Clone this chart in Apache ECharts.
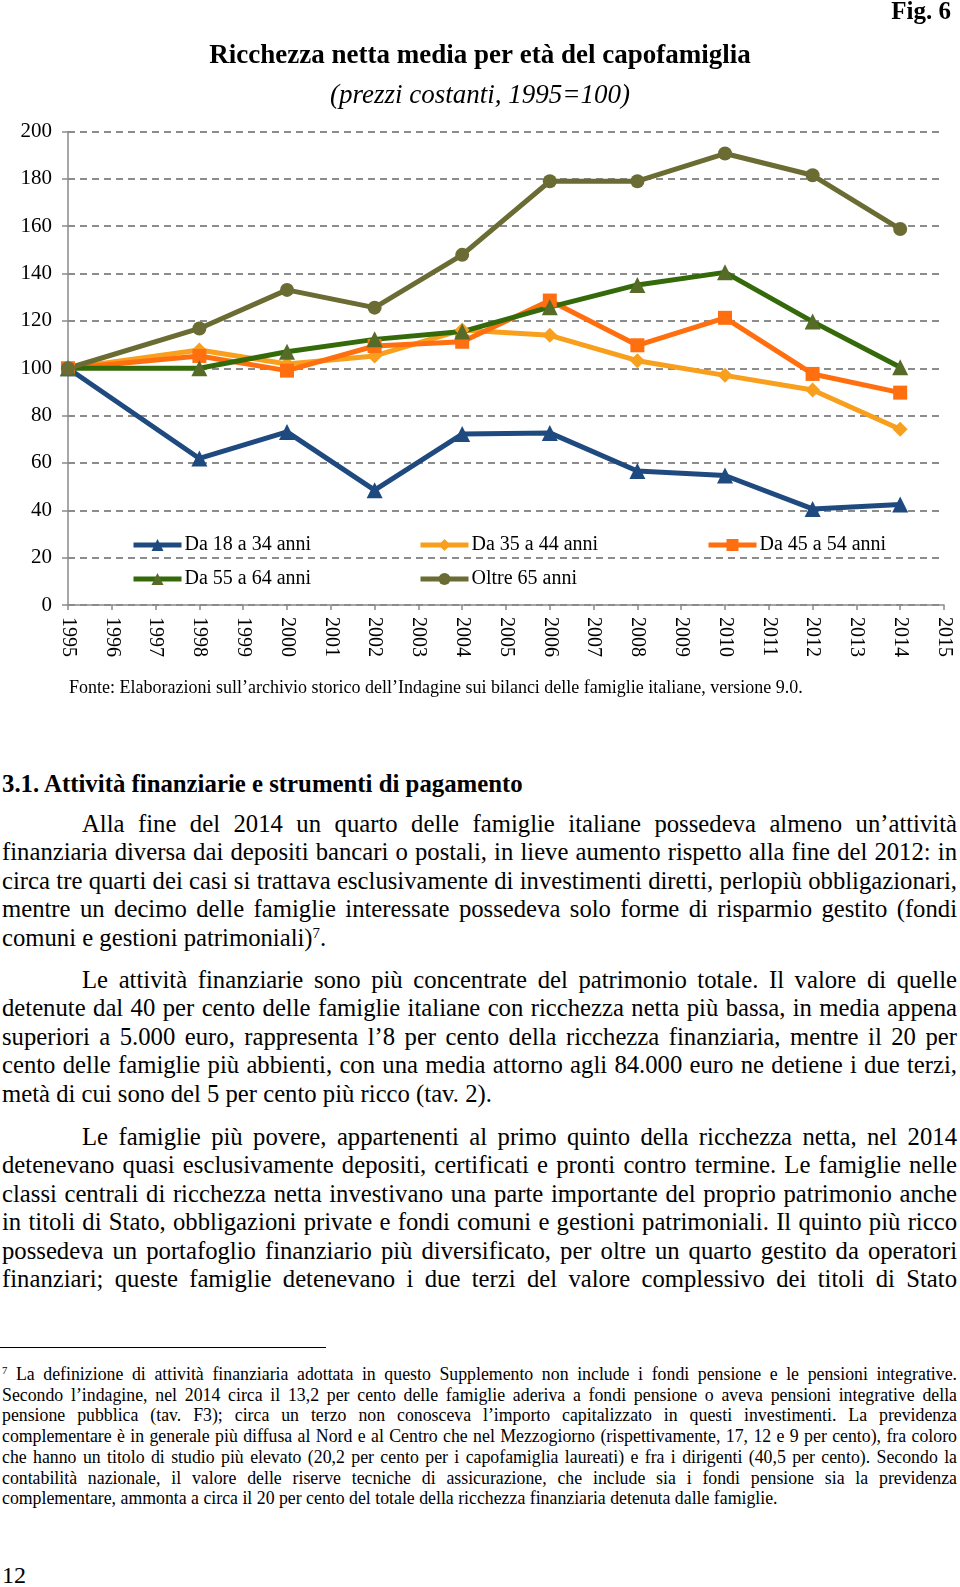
<!DOCTYPE html>
<html>
<head>
<meta charset="utf-8">
<script src="https://cdn.jsdelivr.net/npm/echarts@6/dist/echarts.min.js"></script>
<style>
  html, body { margin: 0; padding: 0; background: #fff; width: 960px; height: 1587px; overflow: hidden; }
  body { font-family: 'Liberation Serif', 'Times New Roman', serif; color: #000; position: relative; }
  #chart { position: absolute; left: 0; top: 0; width: 960px; height: 700px; }
  .abs { position: absolute; }
  .ln { width: 955px; text-align: justify; text-align-last: justify; white-space: normal; }
  .ln.last { text-align-last: left; }
  .ind { text-indent: 80px; }
  .body { font-size: 24.7px; line-height: 28.4px; }
  .fn { font-size: 17.8px; line-height: 20.7px; }
  sup { font-size: 60%; line-height: 0; vertical-align: 0.55em; }
</style>
</head>
<body>
<div id="chart"></div>

<div class="abs" id="fonte" style="left:69px; top:676px; font-size:18px; line-height:22px;">Fonte: Elaborazioni sull’archivio storico dell’Indagine sui bilanci delle famiglie italiane, versione 9.0.</div>

<div class="abs" style="left:2px; top:769px; font-size:24.8px; font-weight:bold; line-height:30px;">3.1. Attività finanziarie e strumenti di pagamento</div>

<div class="abs body" style="left:2px; top:810px;">
  <div class="ln ind">Alla fine del 2014 un quarto delle famiglie italiane possedeva almeno un’attività</div>
  <div class="ln">finanziaria diversa dai depositi bancari o postali, in lieve aumento rispetto alla fine del 2012: in</div>
  <div class="ln">circa tre quarti dei casi si trattava esclusivamente di investimenti diretti, perlopiù obbligazionari,</div>
  <div class="ln">mentre un decimo delle famiglie interessate possedeva solo forme di risparmio gestito (fondi</div>
  <div class="ln last">comuni e gestioni patrimoniali)<sup>7</sup>.</div>
</div>

<div class="abs body" style="left:2px; top:966px;">
  <div class="ln ind">Le attività finanziarie sono più concentrate del patrimonio totale. Il valore di quelle</div>
  <div class="ln">detenute dal 40 per cento delle famiglie italiane con ricchezza netta più bassa, in media appena</div>
  <div class="ln">superiori a 5.000 euro, rappresenta l’8 per cento della ricchezza finanziaria, mentre il 20 per</div>
  <div class="ln">cento delle famiglie più abbienti, con una media attorno agli 84.000 euro ne detiene i due terzi,</div>
  <div class="ln last">metà di cui sono del 5 per cento più ricco (tav. 2).</div>
</div>

<div class="abs body" style="left:2px; top:1123px;">
  <div class="ln ind">Le famiglie più povere, appartenenti al primo quinto della ricchezza netta, nel 2014</div>
  <div class="ln">detenevano quasi esclusivamente depositi, certificati e pronti contro termine. Le famiglie nelle</div>
  <div class="ln">classi centrali di ricchezza netta investivano una parte importante del proprio patrimonio anche</div>
  <div class="ln">in titoli di Stato, obbligazioni private e fondi comuni e gestioni patrimoniali. Il quinto più ricco</div>
  <div class="ln">possedeva un portafoglio finanziario più diversificato, per oltre un quarto gestito da operatori</div>
  <div class="ln">finanziari; queste famiglie detenevano i due terzi del valore complessivo dei titoli di Stato</div>
</div>

<div class="abs" style="left:0px; top:1347px; width:326px; height:0; border-top:1.5px solid #000;"></div>

<div class="abs fn" style="left:2px; top:1364px;">
  <div class="ln"><sup>7</sup> La definizione di attività finanziaria adottata in questo Supplemento non include i fondi pensione e le pensioni integrative.</div>
  <div class="ln">Secondo l’indagine, nel 2014 circa il 13,2 per cento delle famiglie aderiva a fondi pensione o aveva pensioni integrative della</div>
  <div class="ln">pensione pubblica (tav. F3); circa un terzo non conosceva l’importo capitalizzato in questi investimenti. La previdenza</div>
  <div class="ln">complementare è in generale più diffusa al Nord e al Centro che nel Mezzogiorno (rispettivamente, 17, 12 e 9 per cento), fra coloro</div>
  <div class="ln">che hanno un titolo di studio più elevato (20,2 per cento per i capofamiglia laureati) e fra i dirigenti (40,5 per cento). Secondo la</div>
  <div class="ln">contabilità nazionale, il valore delle riserve tecniche di assicurazione, che include sia i fondi pensione sia la previdenza</div>
  <div class="ln last">complementare, ammonta a circa il 20 per cento del totale della ricchezza finanziaria detenuta dalle famiglie.</div>
</div>

<div class="abs" style="left:2px; top:1560px; font-size:24px; line-height:30px;">12</div>

<script>
// ---- Data ----
var xLabels = ['1995','1996','1997','1998','1999','2000','2001','2002','2003','2004','2005','2006','2007','2008','2009','2010','2011','2012','2013','2014','2015'];
var surveyYears = ['1995','1998','2000','2002','2004','2006','2008','2010','2012','2014'];
var da18a34 = [100, 61.9, 73.1, 48.5, 72.2, 72.7, 56.6, 54.7, 40.6, 42.5];
var da35a44 = [100, 107.7, 101.8, 105.2, 116.2, 113.9, 103.2, 97.0, 90.8, 74.2];
var da45a54 = [100, 105.2, 99.0, 109.4, 111.2, 128.6, 109.7, 121.3, 97.6, 89.7];
var da55a64 = [100, 100.0, 107.0, 112.2, 115.5, 125.8, 135.2, 140.5, 119.7, 100.4];
var oltre65 = [100, 116.8, 133.1, 125.6, 147.9, 179.0, 179.0, 190.7, 181.5, 158.8];
var yTicks = { min: 0, max: 200, interval: 20 };

var seriesNames = ['Da 18 a 34 anni', 'Da 35 a 44 anni', 'Da 45 a 54 anni', 'Da 55 a 64 anni', 'Oltre 65 anni'];

function pairs(vals) { return surveyYears.map(function (y, i) { return [y, vals[i]]; }); }

var FONT = 'Liberation Serif';
var chart = echarts.init(document.getElementById('chart'), null, { renderer: 'canvas' });

function mkSeries(name, vals, lineColor, markColor, symbol, size) {
  return {
    name: name, type: 'line', data: pairs(vals),
    symbol: symbol, symbolSize: size, showAllSymbol: true,
    lineStyle: { color: lineColor, width: 5 },
    itemStyle: { color: markColor, borderWidth: 0 },
    emphasis: { disabled: true },
    animation: false
  };
}

var legendPos = [
  { left: 131, top: 535 }, { left: 418, top: 535 }, { left: 706, top: 535 },
  { left: 131, top: 569 }, { left: 418, top: 569 }
];

chart.setOption({
  animation: false,
  backgroundColor: '#fff',
  graphic: [
    { type: 'text', left: 'center', top: 43, style: { text: 'Ricchezza netta media per età del capofamiglia', font: 'bold 27px "Liberation Serif"', fill: '#000' } },
    { type: 'text', left: 'center', top: 82, style: { text: '(prezzi costanti, 1995=100)', font: 'italic 27px "Liberation Serif"', fill: '#000' } },
    { type: 'text', right: 9, top: 0, style: { text: 'Fig. 6', font: 'bold 25px "Liberation Serif"', fill: '#000' } }
  ],
  legend: legendPos.map(function (p, i) {
    return {
      data: [seriesNames[i]], left: p.left, top: p.top, padding: 0,
      itemWidth: 48, itemHeight: 15, itemGap: 4,
      lineStyle: { width: 5 },
      textStyle: { fontFamily: FONT, fontSize: 20, color: '#000', padding: [0, 0, 0, -2] },
      selectedMode: false
    };
  }),
  grid: { left: 68, right: 16, top: 131.5, bottom: 95, containLabel: false },
  xAxis: {
    type: 'category', data: xLabels, boundaryGap: false,
    axisLine: { lineStyle: { color: '#8a8a8a', width: 1.5 } },
    axisTick: { show: true, length: 5, alignWithLabel: true, lineStyle: { color: '#8a8a8a', width: 1.5 } },
    axisLabel: { rotate: -90, margin: 12, fontFamily: FONT, fontSize: 20, color: '#000', interval: 0 },
    splitLine: { show: false }
  },
  yAxis: {
    type: 'value', min: yTicks.min, max: yTicks.max, interval: yTicks.interval,
    axisLine: { show: true, lineStyle: { color: '#8a8a8a', width: 1.5 } },
    axisTick: { show: true, length: 6, lineStyle: { color: '#8a8a8a', width: 1.5 } },
    axisLabel: { margin: 16, fontFamily: FONT, fontSize: 21, color: '#000' },
    splitLine: { show: true, lineStyle: { color: '#8c8c8c', width: 2, type: [7, 5] } }
  },
  series: [
    mkSeries(seriesNames[0], da18a34, '#1f4a80', '#1f4a80', 'triangle', 16),
    mkSeries(seriesNames[1], da35a44, '#f8a01e', '#f8a01e', 'diamond', 15),
    mkSeries(seriesNames[2], da45a54, '#ff6f0f', '#ff6f0f', 'rect', 14),
    mkSeries(seriesNames[3], da55a64, '#356a0a', '#566b28', 'triangle', 16),
    mkSeries(seriesNames[4], oltre65, '#6b6b34', '#6b6b34', 'circle', 14)
  ]
});
</script>
</body>
</html>
